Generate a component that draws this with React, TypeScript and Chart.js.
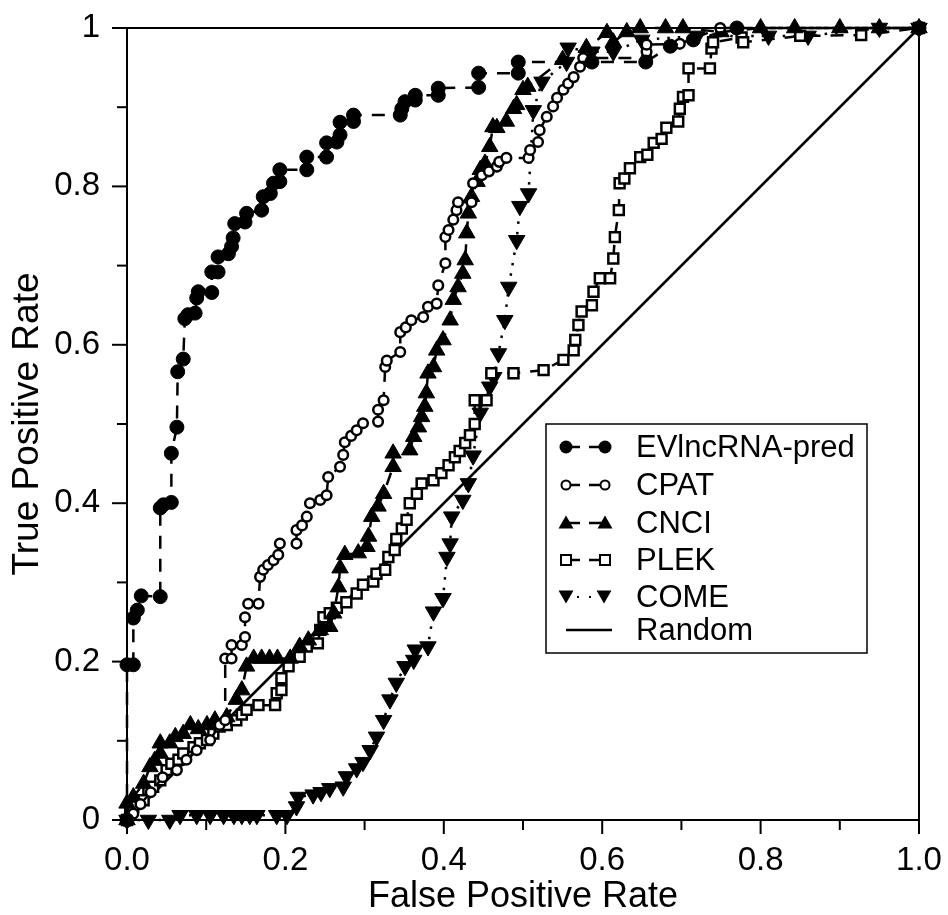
import React, { useEffect, useRef } from "react";
import { Chart, registerables } from "chart.js";

Chart.register(...registerables);

// ---- Data (FPR / TPR) ----
const evFpr = [0, 0, 0.008, 0.008, 0.013, 0.018, 0.042, 0.042, 0.046, 0.056, 0.056, 0.063, 0.064, 0.071, 0.073, 0.077, 0.086, 0.088, 0.09, 0.107, 0.107, 0.115, 0.115, 0.128, 0.132, 0.134, 0.136, 0.149, 0.151, 0.17, 0.172, 0.181, 0.185, 0.193, 0.193, 0.227, 0.227, 0.252, 0.252, 0.265, 0.269, 0.269, 0.286, 0.286, 0.345, 0.347, 0.351, 0.364, 0.364, 0.393, 0.393, 0.444, 0.444, 0.494, 0.494, 0.587, 0.655, 0.686, 0.715, 0.77, 1];
const evTpr = [0, 0.196, 0.196, 0.255, 0.265, 0.283, 0.282, 0.394, 0.398, 0.401, 0.463, 0.496, 0.566, 0.582, 0.633, 0.638, 0.64, 0.659, 0.667, 0.666, 0.692, 0.692, 0.711, 0.715, 0.724, 0.735, 0.753, 0.755, 0.766, 0.77, 0.787, 0.791, 0.804, 0.806, 0.821, 0.821, 0.837, 0.837, 0.855, 0.856, 0.865, 0.881, 0.882, 0.89, 0.89, 0.898, 0.907, 0.909, 0.915, 0.915, 0.924, 0.925, 0.943, 0.943, 0.957, 0.957, 0.957, 0.977, 0.985, 1, 1];

const cpatFpr = [0, 0.008, 0.017, 0.03, 0.045, 0.063, 0.075, 0.088, 0.105, 0.117, 0.124, 0.124, 0.132, 0.132, 0.145, 0.149, 0.149, 0.153, 0.166, 0.168, 0.172, 0.178, 0.185, 0.191, 0.193, 0.214, 0.214, 0.221, 0.227, 0.231, 0.244, 0.252, 0.254, 0.269, 0.273, 0.275, 0.283, 0.29, 0.298, 0.317, 0.317, 0.324, 0.326, 0.328, 0.345, 0.345, 0.352, 0.359, 0.374, 0.38, 0.391, 0.393, 0.402, 0.402, 0.406, 0.412, 0.416, 0.418, 0.435, 0.437, 0.448, 0.457, 0.467, 0.47, 0.479, 0.507, 0.509, 0.519, 0.521, 0.53, 0.538, 0.543, 0.551, 0.557, 0.564, 0.572, 0.576, 0.656, 0.656, 0.656, 0.698, 0.749, 1];
const cpatTpr = [0, 0.008, 0.02, 0.035, 0.054, 0.063, 0.076, 0.088, 0.101, 0.12, 0.126, 0.204, 0.204, 0.221, 0.221, 0.231, 0.256, 0.273, 0.273, 0.307, 0.316, 0.322, 0.328, 0.335, 0.349, 0.349, 0.366, 0.372, 0.383, 0.4, 0.404, 0.41, 0.433, 0.446, 0.461, 0.477, 0.485, 0.492, 0.501, 0.503, 0.518, 0.53, 0.572, 0.58, 0.591, 0.616, 0.622, 0.631, 0.635, 0.648, 0.652, 0.675, 0.703, 0.736, 0.745, 0.758, 0.77, 0.78, 0.78, 0.804, 0.814, 0.819, 0.825, 0.831, 0.836, 0.836, 0.846, 0.856, 0.871, 0.888, 0.901, 0.912, 0.922, 0.93, 0.938, 0.951, 0.962, 0.962, 0.97, 0.979, 0.98, 1, 1];

const cnciFpr = [0, 0, 0.008, 0.021, 0.029, 0.035, 0.042, 0.042, 0.054, 0.061, 0.071, 0.08, 0.09, 0.101, 0.111, 0.126, 0.138, 0.145, 0.151, 0.16, 0.17, 0.18, 0.19, 0.206, 0.218, 0.229, 0.244, 0.256, 0.261, 0.267, 0.269, 0.275, 0.292, 0.303, 0.305, 0.309, 0.317, 0.324, 0.336, 0.336, 0.357, 0.362, 0.368, 0.372, 0.376, 0.378, 0.38, 0.387, 0.391, 0.399, 0.408, 0.412, 0.418, 0.424, 0.427, 0.429, 0.431, 0.435, 0.442, 0.446, 0.452, 0.458, 0.462, 0.467, 0.479, 0.488, 0.492, 0.5, 0.506, 0.55, 0.58, 0.606, 0.614, 0.631, 0.648, 0.68, 0.702, 0.75, 0.8, 0.843, 0.9, 0.95, 1];
const cnciTpr = [0, 0.021, 0.029, 0.046, 0.067, 0.075, 0.084, 0.097, 0.097, 0.105, 0.109, 0.12, 0.115, 0.12, 0.126, 0.13, 0.152, 0.164, 0.194, 0.204, 0.204, 0.204, 0.204, 0.204, 0.219, 0.227, 0.24, 0.244, 0.261, 0.294, 0.318, 0.335, 0.337, 0.345, 0.358, 0.383, 0.396, 0.412, 0.446, 0.463, 0.467, 0.484, 0.496, 0.509, 0.522, 0.539, 0.564, 0.572, 0.593, 0.606, 0.631, 0.657, 0.673, 0.69, 0.707, 0.741, 0.766, 0.787, 0.806, 0.821, 0.829, 0.85, 0.875, 0.874, 0.882, 0.898, 0.903, 0.922, 0.926, 0.96, 0.975, 0.994, 0.982, 0.995, 1, 1, 1, 0.995, 1, 1, 1, 1, 1];

const plekFpr = [0, 0.004, 0.008, 0.021, 0.027, 0.033, 0.042, 0.05, 0.056, 0.065, 0.071, 0.084, 0.092, 0.101, 0.109, 0.117, 0.126, 0.138, 0.145, 0.151, 0.166, 0.187, 0.189, 0.195, 0.195, 0.204, 0.218, 0.227, 0.241, 0.244, 0.248, 0.256, 0.265, 0.277, 0.29, 0.298, 0.311, 0.315, 0.326, 0.33, 0.338, 0.34, 0.347, 0.353, 0.357, 0.366, 0.372, 0.387, 0.397, 0.406, 0.414, 0.42, 0.427, 0.433, 0.439, 0.439, 0.454, 0.46, 0.488, 0.526, 0.551, 0.564, 0.566, 0.57, 0.574, 0.587, 0.589, 0.597, 0.61, 0.614, 0.616, 0.621, 0.622, 0.628, 0.635, 0.648, 0.657, 0.665, 0.675, 0.681, 0.696, 0.698, 0.702, 0.709, 0.709, 0.736, 0.738, 0.74, 0.776, 0.778, 0.85, 0.927, 1];
const plekTpr = [0, 0.009, 0.017, 0.025, 0.038, 0.042, 0.05, 0.063, 0.071, 0.076, 0.084, 0.092, 0.097, 0.101, 0.109, 0.118, 0.12, 0.126, 0.133, 0.139, 0.145, 0.145, 0.16, 0.164, 0.179, 0.194, 0.206, 0.219, 0.223, 0.24, 0.256, 0.261, 0.268, 0.275, 0.286, 0.297, 0.301, 0.311, 0.316, 0.332, 0.341, 0.355, 0.368, 0.379, 0.4, 0.412, 0.425, 0.429, 0.438, 0.448, 0.458, 0.466, 0.476, 0.486, 0.5, 0.53, 0.53, 0.564, 0.564, 0.568, 0.581, 0.593, 0.606, 0.625, 0.642, 0.65, 0.667, 0.684, 0.684, 0.709, 0.736, 0.77, 0.804, 0.81, 0.823, 0.837, 0.84, 0.855, 0.86, 0.874, 0.882, 0.898, 0.913, 0.915, 0.949, 0.949, 0.974, 0.982, 0.988, 0.982, 0.99, 0.991, 1];

const comeFpr = [0, 0.027, 0.054, 0.067, 0.088, 0.105, 0.122, 0.135, 0.145, 0.155, 0.164, 0.189, 0.202, 0.214, 0.216, 0.235, 0.245, 0.256, 0.273, 0.277, 0.29, 0.298, 0.307, 0.315, 0.324, 0.332, 0.34, 0.351, 0.362, 0.364, 0.38, 0.387, 0.399, 0.404, 0.408, 0.41, 0.424, 0.431, 0.437, 0.446, 0.446, 0.458, 0.463, 0.469, 0.477, 0.482, 0.492, 0.496, 0.507, 0.513, 0.524, 0.555, 0.557, 0.587, 0.614, 0.65, 0.72, 0.81, 0.86, 0.95, 1];
const comeTpr = [0, 0, 0, 0.006, 0.006, 0.006, 0.006, 0.006, 0.006, 0.006, 0.006, 0.006, 0.006, 0.017, 0.029, 0.032, 0.035, 0.04, 0.042, 0.055, 0.065, 0.073, 0.088, 0.105, 0.126, 0.152, 0.173, 0.194, 0.202, 0.215, 0.219, 0.263, 0.28, 0.332, 0.349, 0.383, 0.404, 0.425, 0.46, 0.514, 0.53, 0.547, 0.559, 0.589, 0.631, 0.673, 0.732, 0.775, 0.791, 0.896, 0.932, 0.957, 0.975, 0.97, 0.97, 0.985, 0.99, 0.99, 0.99, 1, 1];

const randomFpr = [0, 1];
const randomTpr = [0, 1];

const seriesNames = ["EVlncRNA-pred", "CPAT", "CNCI", "PLEK", "COME", "Random"];
const xTickLabels = ["0.0", "0.2", "0.4", "0.6", "0.8", "1.0"];
const yTickLabels = ["0", "0.2", "0.4", "0.6", "0.8", "1"];

const FONT = '"Liberation Sans", Arial, Helvetica, sans-serif';

function pts(xs: number[], ys: number[]) {
  return xs.map((x, i) => ({ x, y: ys[i] }));
}

function drawMarker(ctx: CanvasRenderingContext2D, kind: string, x: number, y: number) {
  ctx.save();
  ctx.setLineDash([]);
  ctx.lineWidth = 2;
  ctx.strokeStyle = "#000";
  ctx.fillStyle = "#000";
  ctx.beginPath();
  if (kind === "fcircle") {
    ctx.arc(x, y, 6.5, 0, Math.PI * 2);
    ctx.fill();
  } else if (kind === "ocircle") {
    ctx.arc(x, y, 4.5, 0, Math.PI * 2);
    ctx.fillStyle = "#fff";
    ctx.fill();
    ctx.stroke();
  } else if (kind === "tri") {
    ctx.moveTo(x, y - 7.5);
    ctx.lineTo(x + 7.5, y + 5.5);
    ctx.lineTo(x - 7.5, y + 5.5);
    ctx.closePath();
    ctx.fill();
  } else if (kind === "rect") {
    ctx.rect(x - 5, y - 5, 10, 10);
    ctx.fillStyle = "#fff";
    ctx.fill();
    ctx.stroke();
  } else if (kind === "dtri") {
    ctx.moveTo(x, y + 7.5);
    ctx.lineTo(x + 7.5, y - 5.5);
    ctx.lineTo(x - 7.5, y - 5.5);
    ctx.closePath();
    ctx.fill();
  }
  ctx.restore();
}

const framePlugin = {
  id: "frame",
  afterDraw(chart: any) {
    const { ctx, chartArea, scales } = chart;
    const xs = scales.x;
    const ys = scales.y;
    ctx.save();
    ctx.strokeStyle = "#000";
    ctx.lineWidth = 2;
    ctx.setLineDash([]);
    ctx.strokeRect(chartArea.left, chartArea.top, chartArea.right - chartArea.left, chartArea.bottom - chartArea.top);
    for (let i = 0; i <= 10; i++) {
      const v = i / 10;
      const len = i % 2 === 0 ? 14 : 10;
      const px = xs.getPixelForValue(v);
      ctx.beginPath();
      ctx.moveTo(px, chartArea.bottom);
      ctx.lineTo(px, chartArea.bottom + len);
      ctx.stroke();
      const py = ys.getPixelForValue(v);
      const ylen = i % 2 === 0 ? 15 : 10;
      ctx.beginPath();
      ctx.moveTo(chartArea.left, py);
      ctx.lineTo(chartArea.left - ylen, py);
      ctx.stroke();
    }
    // Legend
    const bx = 546, by = 424, bw = 321, bh = 229;
    ctx.fillStyle = "#fff";
    ctx.fillRect(bx, by, bw, bh);
    ctx.lineWidth = 1.5;
    ctx.strokeRect(bx, by, bw, bh);
    const rows = [447, 485, 523, 560, 597, 630];
    const kinds = ["fcircle", "ocircle", "tri", "rect", "dtri", "none"];
    ctx.font = `31px ${FONT}`;
    ctx.textBaseline = "middle";
    ctx.textAlign = "left";
    rows.forEach((ry, i) => {
      const k = kinds[i];
      ctx.strokeStyle = "#000";
      ctx.lineWidth = 2.5;
      if (k === "none") {
        ctx.beginPath();
        ctx.moveTo(566, ry);
        ctx.lineTo(612, ry);
        ctx.stroke();
      } else if (k === "dtri") {
        ctx.fillStyle = "#000";
        ctx.fillRect(577, ry - 1, 2, 2);
        ctx.fillRect(589, ry - 1, 2, 2);
        drawMarker(ctx, k, 566, ry - 1);
        drawMarker(ctx, k, 604, ry - 1);
      } else {
        ctx.beginPath();
        ctx.moveTo(566, ry);
        ctx.lineTo(580, ry);
        ctx.moveTo(589, ry);
        ctx.lineTo(604, ry);
        ctx.stroke();
        drawMarker(ctx, k, 566, ry);
        drawMarker(ctx, k, 605, ry);
      }
      ctx.fillStyle = "#000";
      ctx.fillText(seriesNames[i], 636, ry + 1);
    });
    ctx.restore();
  },
};

export default function App() {
  const canvasRef = useRef<HTMLCanvasElement | null>(null);

  useEffect(() => {
    document.body.style.margin = "0";
    const canvas = canvasRef.current;
    if (!canvas) return;
    const common = {
      showLine: true,
      borderColor: "#000",
      borderWidth: 2.5,
      pointBorderColor: "#000",
      clip: false as any,
      tension: 0,
    };
    const chart = new Chart(canvas, {
      type: "scatter",
      data: {
        datasets: [
          {
            ...common,
            label: seriesNames[0],
            data: pts(evFpr, evTpr),
            borderDash: [13, 10],
            pointStyle: "circle",
            pointRadius: 7,
            pointBackgroundColor: "#000",
            pointBorderWidth: 1,
          },
          {
            ...common,
            label: seriesNames[1],
            data: pts(cpatFpr, cpatTpr),
            borderDash: [13, 10],
            pointStyle: "circle",
            pointRadius: 4.8,
            pointBackgroundColor: "#fff",
            pointBorderWidth: 2.5,
          },
          {
            ...common,
            label: seriesNames[2],
            data: pts(cnciFpr, cnciTpr),
            borderDash: [13, 10],
            pointStyle: "triangle",
            pointRadius: 9.5,
            pointBackgroundColor: "#000",
            pointBorderWidth: 1,
          },
          {
            ...common,
            label: seriesNames[3],
            data: pts(plekFpr, plekTpr),
            borderDash: [13, 10],
            pointStyle: "rect",
            pointRadius: 7,
            pointBackgroundColor: "#fff",
            pointBorderWidth: 2.5,
          },
          {
            ...common,
            label: seriesNames[4],
            data: pts(comeFpr, comeTpr),
            borderDash: [2.5, 8],
            pointStyle: "triangle",
            pointRotation: 180,
            pointRadius: 9.5,
            pointBackgroundColor: "#000",
            pointBorderWidth: 1,
          },
          {
            ...common,
            label: seriesNames[5],
            data: pts(randomFpr, randomTpr),
            pointRadius: 0,
            borderWidth: 2.5,
          },
        ],
      },
      options: {
        animation: false,
        responsive: false,
        devicePixelRatio: 1,
        layout: { padding: { top: 28, right: 29, bottom: 0, left: 0 } },
        plugins: { legend: { display: false }, tooltip: { enabled: false } },
        scales: {
          x: {
            type: "linear",
            min: 0,
            max: 1,
            grid: { display: false, drawTicks: false },
            border: { display: false },
            ticks: {
              stepSize: 0.2,
              padding: 21,
              color: "#000",
              font: { family: FONT, size: 33 },
              maxRotation: 0,
              callback: (v: any) => xTickLabels[Math.round(Number(v) * 5)] ?? "",
            },
            title: {
              display: true,
              text: "False Positive Rate",
              color: "#000",
              font: { family: FONT, size: 36 },
              padding: { top: 0, bottom: -4 },
            },
            afterFit: (s: any) => {
              s.height = 95;
              s.paddingLeft = 0;
              s.paddingRight = 0;
            },
          },
          y: {
            type: "linear",
            min: 0,
            max: 1,
            grid: { display: false, drawTicks: false },
            border: { display: false },
            ticks: {
              stepSize: 0.2,
              padding: 27,
              color: "#000",
              font: { family: FONT, size: 33 },
              callback: (v: any) => yTickLabels[Math.round(Number(v) * 5)] ?? "",
            },
            title: {
              display: true,
              text: "True Positive Rate",
              color: "#000",
              font: { family: FONT, size: 37 },
              padding: { top: 6, bottom: 0 },
            },
            afterFit: (s: any) => {
              s.width = 127;
              s.paddingTop = 0;
              s.paddingBottom = 0;
            },
          },
        },
      },
      plugins: [framePlugin],
    });
    return () => chart.destroy();
  }, []);

  return (
    <div style={{ width: 948, height: 915 }}>
      <canvas ref={canvasRef} width={948} height={915} />
    </div>
  );
}
